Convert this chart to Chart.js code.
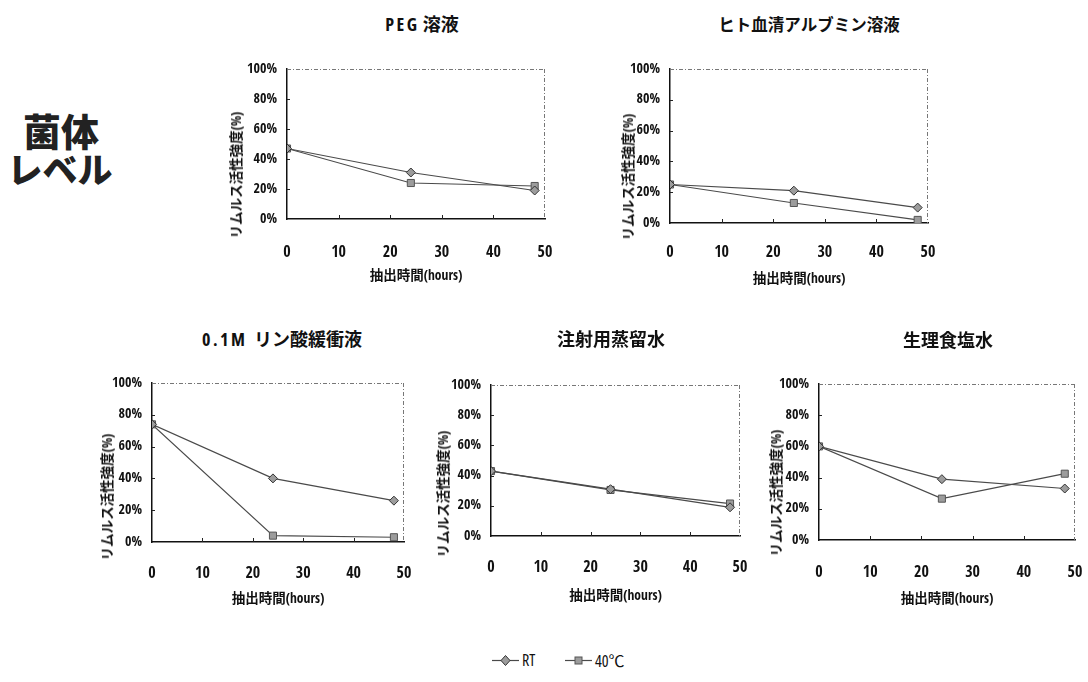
<!DOCTYPE html>
<html>
<head>
<meta charset="utf-8">
<script src="https://cdn.jsdelivr.net/npm/chart.js@4/dist/chart.umd.min.js"></script>
<style>
  html, body { margin:0; padding:0; background:#fff; }
  body { width:1088px; height:682px; position:relative; overflow:hidden;
         font-family:'Open Sans Condensed','Roboto Condensed','DejaVu Sans Condensed','Liberation Sans Narrow','Open Sans','Noto Sans CJK JP',sans-serif; }
  canvas { position:absolute; }
  .t { position:absolute; transform:translate(-50%,-50%); white-space:pre; font-weight:bold; color:#111; font-stretch:condensed;
       font-family:'Open Sans','Noto Sans CJK JP',sans-serif; font-size:18px; }
  .t .lat { letter-spacing:2.5px; }
  .yt { position:absolute; transform:translate(-50%,-50%) rotate(-90deg); white-space:nowrap; font-weight:bold; color:#111; font-stretch:condensed;
        font-family:'Open Sans','Noto Sans CJK JP',sans-serif; font-size:13.5px; }
  .big { position:absolute; transform:translate(-50%,-50%); white-space:nowrap; font-weight:900; color:#222;
         font-family:'Noto Sans CJK JP',sans-serif; }
  .leg { position:absolute; top:650px; height:20px; display:flex; align-items:center; font-size:16px; color:#111; font-stretch:condensed;
         font-family:'Open Sans','Noto Sans CJK JP',sans-serif; }
</style>
</head>
<body>
<div class="big" style="left:61px;top:129px;font-size:38px;">菌体</div>
<div class="big" style="left:60px;top:167px;font-size:35px;">レベル</div>

<script>
// ---- data ----
const hours = [0, 24, 48];
const xTicks = [0, 10, 20, 30, 40, 50];
const yTicks = [0, 20, 40, 60, 80, 100];
const seriesNames = ['RT', '40℃'];
const chartTitles = ['PEG 溶液', 'ヒト血清アルブミン溶液', '0.1M  リン酸緩衝液', '注射用蒸留水', '生理食塩水'];
const xAxisTitle = '抽出時間(hours)';
const yAxisTitle = 'リムルス活性強度(%)';
const pegRT = [47, 31, 19];
const pegHot = [47, 24, 22];
const albRT = [25, 21, 10];
const albHot = [25, 13, 2];
const pbsRT = [74, 40, 26];
const pbsHot = [74, 4, 3];
const waterRT = [43, 31, 19];
const waterHot = [43, 30.5, 21.5];
const salineRT = [60, 39, 33];
const salineHot = [60, 26.5, 42.5];

// ---- layout (plot area positions) ----
const panels = [
  {rt: pegRT,    hot: pegHot,    L:287, R:545,  T:69,  B:219, tx:422, ty:23,  ts:18,   yx:235, yy:175, tp:24, xp:9},
  {rt: albRT,    hot: albHot,    L:670, R:928,  T:69,  B:223, tx:809, ty:24,  ts:16.5, yx:627, yy:177, tp:20, xp:10},
  {rt: pbsRT,    hot: pbsHot,    L:152, R:404,  T:383, B:542, tx:282, ty:338, ts:18,   yx:106, yy:497, tp:22, xp:9},
  {rt: waterRT,  hot: waterHot,  L:491, R:740,  T:385, B:536, tx:611, ty:338, ts:18,   yx:442, yy:494, tp:22, xp:6},
  {rt: salineRT, hot: salineHot, L:819, R:1075, T:384, B:540, tx:948, ty:339, ts:18,   yx:775, yy:493, tp:23, xp:7}
];

const FONT = "'Open Sans Condensed','Roboto Condensed','DejaVu Sans Condensed','Liberation Sans Narrow','Open Sans','Noto Sans CJK JP',sans-serif";
const WEIGHT = 'bold condensed';
const LINE = '#4a4a4a';
const FILL = '#9c9c9c';
const PAD_T = 25, PAD_R = 40, YW = 60, XH = 75;

const framePlugin = {
  id: 'frame',
  beforeDatasetsDraw(chart) {
    const {ctx, chartArea: a, scales} = chart;
    ctx.save();
    ctx.strokeStyle = '#777';
    ctx.lineWidth = 1;
    ctx.setLineDash([4, 2, 1, 2]);
    ctx.beginPath();
    ctx.moveTo(a.left, a.top + 0.5); ctx.lineTo(a.right, a.top + 0.5);
    ctx.moveTo(a.right - 0.5, a.top); ctx.lineTo(a.right - 0.5, a.bottom);
    ctx.stroke();
    ctx.setLineDash([]);
    ctx.strokeStyle = '#222';
    ctx.beginPath();
    scales.x.ticks.forEach(t => {
      if (t.value <= 0 || t.value >= 50) return;
      const px = Math.round(scales.x.getPixelForValue(t.value)) + 0.5;
      ctx.moveTo(px, a.bottom); ctx.lineTo(px, a.bottom - 4);
    });
    scales.y.ticks.forEach(t => {
      if (t.value <= 0 || t.value >= 100) return;
      const py = Math.round(scales.y.getPixelForValue(t.value)) + 0.5;
      ctx.moveTo(a.left, py); ctx.lineTo(a.left + 3, py);
    });
    ctx.stroke();
    ctx.restore();
  }
};

panels.forEach((p, i) => {
  const cv = document.createElement('canvas');
  const W = p.R - p.L + YW + PAD_R, H = p.B - p.T + PAD_T + XH;
  cv.width = W; cv.height = H;
  cv.style.left = (p.L - YW) + 'px';
  cv.style.top = (p.T - PAD_T) + 'px';
  cv.style.width = W + 'px'; cv.style.height = H + 'px';
  document.body.appendChild(cv);

  const title = document.createElement('div');
  title.className = 't';
  title.style.left = p.tx + 'px'; title.style.top = p.ty + 'px';
  title.style.fontSize = p.ts + 'px';
  const txt = chartTitles[i];
  const m = txt.match(/^([A-Za-z0-9.]+)(\s+)(.*)$/);
  if (m) {
    const a = document.createElement('span'); a.className = 'lat'; a.textContent = m[1];
    title.appendChild(a);
    title.appendChild(document.createTextNode(m[2] + m[3]));
  } else {
    title.textContent = txt;
  }
  document.body.appendChild(title);

  const yt = document.createElement('div');
  yt.className = 'yt';
  yt.style.left = p.yx + 'px'; yt.style.top = p.yy + 'px';
  yt.textContent = yAxisTitle;
  document.body.appendChild(yt);

  new Chart(cv, {
    type: 'line',
    data: {
      datasets: [
        { label: seriesNames[0], data: hours.map((h, k) => ({x: h, y: p.rt[k]})),
          borderColor: LINE, borderWidth: 1.2, pointStyle: 'rectRot', pointRadius: 4.5,
          pointBackgroundColor: FILL, pointBorderColor: '#333', pointBorderWidth: 1, tension: 0 },
        { label: seriesNames[1], data: hours.map((h, k) => ({x: h, y: p.hot[k]})),
          borderColor: LINE, borderWidth: 1.2, pointStyle: 'rect', pointRadius: 5,
          pointBackgroundColor: FILL, pointBorderColor: '#555', pointBorderWidth: 1, tension: 0 }
      ]
    },
    options: {
      responsive: false, animation: false, devicePixelRatio: 1,
      layout: { padding: { top: PAD_T, right: PAD_R, left: 0, bottom: 0 } },
      plugins: { legend: { display: false }, tooltip: { enabled: false }, title: { display: false } },
      scales: {
        x: {
          type: 'linear', min: 0, max: 50,
          afterBuildTicks: s => { s.ticks = xTicks.map(v => ({value: v})); },
          afterFit: s => { s.height = XH; },
          grid: { display: false, drawTicks: false },
          border: { display: true, color: '#111', width: 1.5 },
          ticks: { color: '#111', padding: p.tp, maxRotation: 0, font: { family: FONT, size: 16, weight: WEIGHT } },
          title: { display: true, text: xAxisTitle, color: '#111', padding: { top: 0, bottom: p.xp },
                   font: { family: FONT, size: 13.5, weight: WEIGHT } }
        },
        y: {
          type: 'linear', min: 0, max: 100,
          afterBuildTicks: s => { s.ticks = yTicks.map(v => ({value: v})); },
          afterFit: s => { s.width = YW; },
          grid: { display: false, drawTicks: false },
          border: { display: true, color: '#111', width: 1.5 },
          ticks: { color: '#111', padding: 10, callback: v => v + '%', font: { family: FONT, size: 14, weight: WEIGHT } }
        }
      }
    },
    plugins: [framePlugin]
  });
});

// ---- legend ----
function legendItem(left, name, square) {
  const d = document.createElement('div');
  d.className = 'leg';
  d.style.left = left + 'px';
  const marker = square
    ? '<rect x="10" y="5" width="7" height="7" fill="' + FILL + '" stroke="#555" stroke-width="1"/>'
    : '<polygon points="13.5,3.5 18,8.5 13.5,13.5 9,8.5" fill="' + FILL + '" stroke="#333" stroke-width="1"/>';
  d.innerHTML = '<svg width="27" height="17" style="margin-right:3px"><line x1="0" y1="8.5" x2="27" y2="8.5" stroke="' + LINE + '" stroke-width="1.2"/>' +
                marker + '</svg><span>' + name + '</span>';
  document.body.appendChild(d);
}
legendItem(492, seriesNames[0], false);
legendItem(565, seriesNames[1], true);
</script>
</body>
</html>
